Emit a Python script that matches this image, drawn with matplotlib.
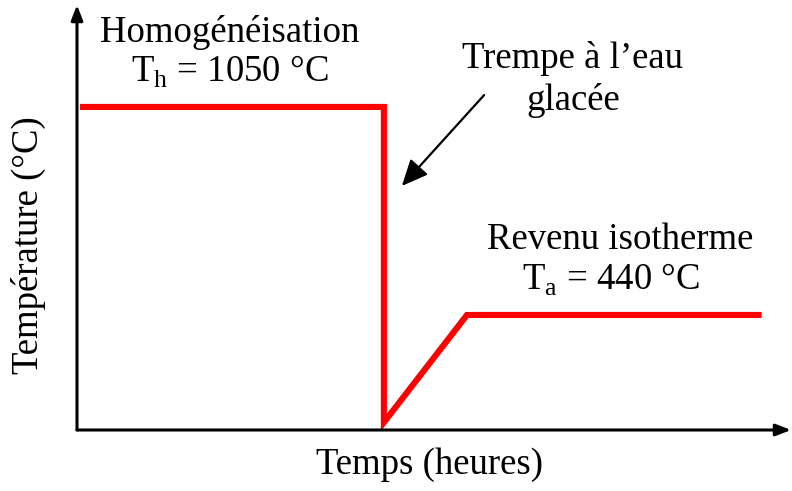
import matplotlib
matplotlib.use('Agg')
import matplotlib.pyplot as plt

plt.rcParams['font.family'] = ['Liberation Serif', 'DejaVu Serif']
plt.rcParams['mathtext.fontset'] = 'custom'
plt.rcParams['mathtext.rm'] = 'Liberation Serif'

# Cycle thermique : homogénéisation, trempe, revenu isotherme
time_h = [0, 3.0, 3.0, 3.82, 6.73]
temp_c = [1050, 1050, 125, 440, 440]

fig = plt.figure(figsize=(7.92, 4.91), dpi=100)
ax = fig.add_axes([77 / 792, 61 / 491, 714 / 792, 425 / 491])
ax.set_xlim(-0.03, 7.02)
ax.set_ylim(102.7, 1349)
for s in ax.spines.values():
    s.set_visible(False)
ax.set_xticks([])
ax.set_yticks([])

ax.plot(time_h, temp_c, color='#ff0000', lw=4.4, solid_joinstyle='miter',
        solid_capstyle='butt', clip_on=False)

# axes with arrow heads
arrow = dict(arrowstyle='-|>,head_length=0.9,head_width=0.35', color='black',
             lw=2.2, shrinkA=0, shrinkB=0)
ax.annotate('', xy=(1, 0), xytext=(0, 0), xycoords='axes fraction',
            arrowprops=arrow, annotation_clip=False)
ax.annotate('', xy=(0, 1), xytext=(0, 0), xycoords='axes fraction',
            arrowprops=arrow, annotation_clip=False)

fs = 26.5
def px(x, y):
    return x / 792, 1 - y / 491

fig.text(*px(230, 32), 'Homogénéisation', fontsize=fs, ha='center', va='center')
fig.text(*px(230, 72), r'T$_\mathrm{h}$ = 1050 °C', fontsize=fs, ha='center', va='center')
fig.text(*px(573, 58), 'Trempe à l’eau', fontsize=fs, ha='center', va='center')
fig.text(*px(573, 100), 'glacée', fontsize=fs, ha='center', va='center')
fig.text(*px(620, 240), 'Revenu isotherme', fontsize=fs, ha='center', va='center')
fig.text(*px(611, 280), r'T$_\mathrm{a}$ = 440 °C', fontsize=fs, ha='center', va='center')
fig.text(*px(28, 245), 'Température (°C)', fontsize=fs, ha='center', va='center',
         rotation=90)
fig.text(*px(430, 465), 'Temps (heures)', fontsize=fs, ha='center', va='center')

# flèche vers la trempe
fig.add_artist(matplotlib.patches.FancyArrowPatch(
    px(486, 93), px(400, 188), transform=fig.transFigure,
    arrowstyle='-|>,head_length=10,head_width=4.5', mutation_scale=1.6,
    color='black', lw=1.6))

fig.savefig('out.png', dpi=100)
